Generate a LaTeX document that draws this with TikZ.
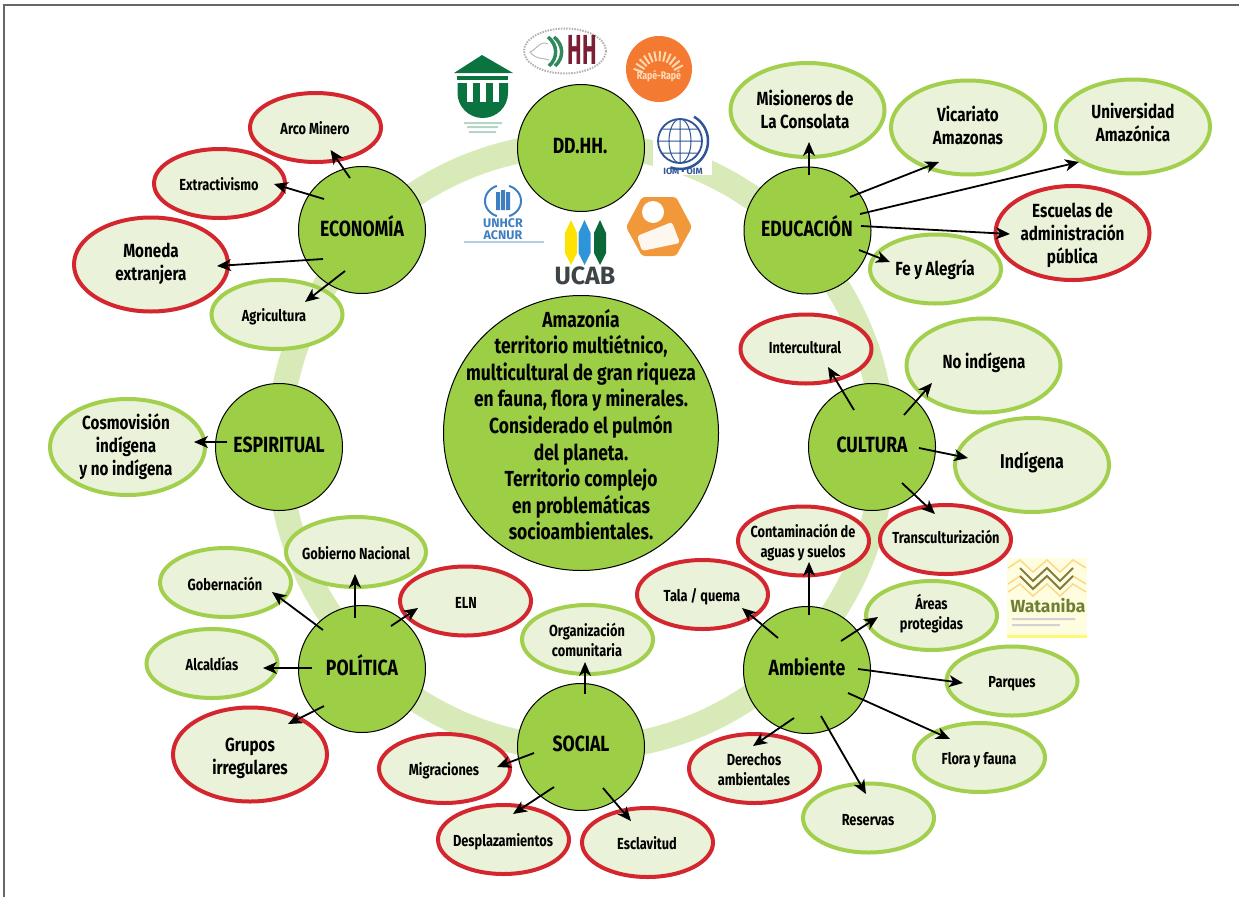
\documentclass[tikz,border=0pt]{standalone}
\usepackage{fontspec}
\setmainfont{Fira Sans}[FakeStretch=0.8]
\newfontfamily\widef{Fira Sans}
\newfontfamily\narrowf{Fira Sans}[FakeStretch=0.52]
\usetikzlibrary{arrows.meta,shapes.geometric,calc}
\definecolor{ringc}{HTML}{D8EAB8}
\definecolor{circc}{HTML}{9CCF45}
\definecolor{ellf}{HTML}{EAF3D9}
\definecolor{grnb}{HTML}{A2D04E}
\definecolor{redb}{HTML}{D4262E}
\definecolor{frame}{HTML}{666666}
\definecolor{temple}{HTML}{0B7340}
\definecolor{orng}{HTML}{F47A32}
\definecolor{orng2}{HTML}{F0983A}
\definecolor{iomb}{HTML}{2F5597}
\definecolor{unb}{HTML}{3F7FC1}
\definecolor{maroon}{HTML}{7A1F35}
\definecolor{ucabg}{HTML}{3D4448}
\definecolor{watg}{HTML}{6F7F32}
\tikzset{
  hub/.style={circle,draw=black,line width=1pt,fill=circc,minimum size=127pt,inner sep=0pt,font=\bfseries\fontsize{22}{26}\selectfont},
  ell/.style={ellipse,fill=ellf,line width=4pt,inner sep=0pt,font=\bfseries\fontsize{16}{20}\selectfont,minimum width=131pt,minimum height=69pt},
  redell/.style={ell,draw=redb},
  grnell/.style={ell,draw=grnb},
  big/.style={minimum width=154pt,minimum height=94pt,font=\bfseries\fontsize{19}{23}\selectfont},
  conn/.style={-{Stealth[length=14pt,width=12pt,inset=4pt]},line width=1.8pt,black},
}
% text set off from the centre of its node by (dx,dy) in picture units
\newcommand{\lf}[3]{\raisebox{\dimexpr 0pt-(#2pt)-0.25em-2.5pt\relax}[0pt][0pt]{\makebox[0pt]{\kern\dimexpr #1pt*2\relax\begin{tabular}{@{}c@{}}#3\end{tabular}}}}
\newcommand{\arw}[4]{\draw[conn] ([shift={(#2)}]#1.center) -- ([shift={(#4)}]#3.center);}
\begin{document}
\begin{tikzpicture}[x=1pt,y=-1pt]
\useasboundingbox (0,0) rectangle (1239,897);
\draw[frame,line width=2pt] (3.5,897) -- (3.5,4.5) -- (1239,4.5);
% ring
\draw[ringc,line width=25pt] (581,446.5) circle (302);
% logos
\begin{scope}
  % temple
  \fill[temple] (482,55) -- (513,73) -- (454,73) -- cycle;
  \fill[temple] (457,76) rectangle (508,80);
  \fill[temple] (457.5,83) -- (508,83) -- (508,93) arc (0:-180:25.25 and -25) -- cycle;
  \foreach \xx in {467,480,493} {\fill[white] (\xx,83) rectangle (\xx+6,102);}
  \fill[temple!30] (464,122) rectangle (502,124) (467,126) rectangle (498,128) (469,131) rectangle (496,133);
  % human rights
  \draw[gray!60,line width=2pt,dash pattern=on 1.5pt off 1.2pt] (565,51) ellipse (41 and 22.5);
  \draw[gray!55,line width=1pt] (548,44) .. controls (540,40) and (536,50) .. (530,52) .. controls (536,60) and (545,58) .. (549,60);
  \draw[temple!85,line width=3.5pt] (548,37) .. controls (558,45) and (558,58) .. (549,66);
  \draw[temple!85,line width=3.5pt] (554,37) .. controls (564,45) and (564,58) .. (555,66);
  \node[font=\narrowf\bfseries\fontsize{42}{42}\selectfont,text=maroon,inner sep=0pt] (hhlogo) at (582,50) {HH};
  % Rape-Rape
  \fill[orng] (659,69) circle (33);
  \foreach \a in {200,212,...,340} {\draw[orange!30!white,line width=2pt] ({659+17*cos(\a)},{78+17*sin(\a)}) -- ({659+27*cos(\a)},{78+27*sin(\a)});}
  \node[font=\bfseries\fontsize{11}{11}\selectfont,text=orange!25!white,inner sep=0pt] (rape) at (659,76) {Rapé-Rapé};
  % IOM
  \fill[white] (653,115) rectangle (712,175);
  \draw[iomb,line width=1.8pt] (680,141) circle (22);
  \draw[iomb,line width=1pt] (658,141) -- (702,141) (680,119) -- (680,163) (680,141) ellipse (11 and 22) (662,129) -- (698,129) (662,153) -- (698,153);
  \draw[iomb,line width=2.5pt,domain=-60:110,samples=40] plot ({680+28*cos(\x)},{141+28*sin(\x)});
  \node[font=\widef\bfseries\fontsize{9}{9}\selectfont,text=iomb,inner sep=0pt] (iom) at (683,171) {IOM • OIM};
  % UNHCR
  \draw[unb,line width=2pt,domain=110:250,samples=30] plot ({503+18*cos(\x)},{201+16*sin(\x)});
  \draw[unb,line width=2pt,domain=-70:70,samples=30] plot ({503+18*cos(\x)},{201+16*sin(\x)});
  \fill[unb] (496,192) rectangle (500,210) (501,190) rectangle (505,210) (506,192) rectangle (510,210);
  \node[font=\widef\bfseries\fontsize{12.5}{12.5}\selectfont,text=unb,align=center,inner sep=0pt] (unhcr) at (503,229) {UNHCR\\ACNUR};
  \fill[unb!40] (464,241) rectangle (544,243);
  % UCAB
  \fill[yellow!85!orange] (571,220) -- (577,233) -- (577,253) -- (571,265) -- (565,253) -- (565,233) -- cycle;
  \fill[cyan!70!blue!85] (584.5,220) -- (590.5,233) -- (590.5,253) -- (584.5,265) -- (578.5,253) -- (578.5,233) -- cycle;
  \fill[temple!90!black] (600,220) -- (606,233) -- (606,253) -- (600,265) -- (594,253) -- (594,233) -- cycle;
  \node[font=\widef\bfseries\fontsize{25}{25}\selectfont,text=ucabg,inner sep=0pt] (ucab) at (585,276) {UCAB};
  % orange hexagon
  \fill[orng2,rounded corners=3pt] (642,197) -- (676,197) -- (692,227) -- (676,256) -- (642,256) -- (626,227) -- cycle;
  \fill[white] (653,212) circle (11);
  \fill[white!92!orng2,rounded corners=3pt] (637,236) -- (672,222) -- (680,243) -- (642,251) -- cycle;
  % Wataniba
  \fill[yellow!12] (1007,558) rectangle (1087,638);
  \foreach \yy in {560,576,584} {\draw[yellow!40!orange!45,line width=1.5pt] (1008,\yy+8) -- (1020,\yy) -- (1033,\yy+12) -- (1047,\yy) -- (1060,\yy+12) -- (1073,\yy) -- (1086,\yy+8);}
  \foreach \yy in {568,576} {\draw[black!40!olive!80,line width=2pt] (1020,\yy) -- (1033,\yy+13) -- (1047,\yy) -- (1060,\yy+13) -- (1073,\yy);}
  \node[font=\widef\bfseries\fontsize{17.5}{17.5}\selectfont,text=watg,inner sep=0pt] (watlogo) at (1048,606) {Wataniba};
  \fill[gray!35] (1012,618) rectangle (1075,620) (1012,624) rectangle (1060,626);
  \fill[yellow!55] (1007,635) rectangle (1087,638);
\end{scope}
% hubs
\node[hub] (dd) at (581,148) {\lf{-1}{-3}{DD.HH.}};
\node[hub] (eco) at (362,230) {\lf{0}{-3}{ECONOMÍA}};
\node[hub] (edu) at (807.5,230.5) {\lf{-0.5}{-3.5}{EDUCACIÓN}};
\node[hub] (esp) at (279,447) {\lf{0}{-3}{ESPIRITUAL}};
\node[hub] (cul) at (872,447) {\lf{0}{-3}{CULTURA}};
\node[hub] (pol) at (362,669) {\lf{0}{-3}{POLÍTICA}};
\node[hub] (amb) at (807,670) {\lf{0}{-3}{Ambiente}};
\node[hub] (soc) at (581,747) {\lf{0}{-4}{SOCIAL}};
\node[hub,minimum size=275pt,font=\bfseries\fontsize{21.8}{26.6}\selectfont] (main) at (581,433) {\lf{0}{-7.5}{Amazonía\\territorio multiétnico,\\multicultural de gran riqueza\\en fauna, flora y minerales.\\Considerado el pulmón\\del planeta.\\Territorio complejo\\en problemáticas\\socioambientales.}};
% ellipses
\node[redell] (arco) at (315.5,127.5) {\lf{-0.5}{0.5}{Arco Minero}};
\node[redell] (extr) at (219.5,183.5) {\lf{-0.5}{0.5}{Extractivismo}};
\node[redell,big] (mon) at (151,264.5) {\lf{0}{-3.5}{Moneda\\extranjera}};
\node[grnell] (agr) at (277,314.5) {\lf{-3}{0.5}{Agricultura}};
\node[grnell,big,minimum width=155pt,minimum height=96pt] (cos) at (127.5,447) {\lf{-1.5}{-2}{Cosmovisión\\indígena\\y no indígena}};
\node[grnell,minimum width=140pt,minimum height=70pt] (gob) at (356,552) {\lf{0}{1}{Gobierno Nacional}};
\node[redell] (eln) at (465.5,601) {\lf{0.5}{1}{ELN}};
\node[grnell] (gobn) at (225.5,582.5) {\lf{-0.5}{1.5}{Gobernación}};
\node[grnell] (alc) at (212,663.5) {\lf{0}{0.5}{Alcaldías}};
\node[redell,big] (gru) at (250,754.5) {\lf{0}{0.5}{Grupos\\irregulares}};
\node[grnell] (org) at (587.5,639.5) {\lf{-0.5}{0.5}{Organización\\comunitaria}};
\node[redell] (mig) at (444.5,768.5) {\lf{-0.5}{0.5}{Migraciones}};
\node[redell] (des) at (503.5,839.5) {\lf{-0.5}{0.5}{Desplazamientos}};
\node[redell] (esc) at (647.5,842.5) {\lf{-0.5}{0.5}{Esclavitud}};
\node[redell] (der) at (754.5,768.5) {\lf{-0.5}{0.5}{Derechos\\ambientales}};
\node[grnell] (res) at (868.5,818) {\lf{-0.5}{1}{Reservas}};
\node[grnell] (flo) at (979.5,757.5) {\lf{-0.5}{0.5}{Flora y fauna}};
\node[grnell] (par) at (1012,681) {\lf{0}{0}{Parques}};
\node[grnell] (are) at (931.5,615.5) {\lf{0}{-2.5}{Áreas\\protegidas}};
\node[redell] (tal) at (702.5,594.5) {\lf{-0.5}{0.5}{Tala / quema}};
\node[redell] (con) at (803.5,541) {\lf{-0.5}{0.5}{Contaminación de\\aguas y suelos}};
\node[redell] (tra) at (945.5,539.5) {\lf{0.5}{-2.5}{Transculturización}};
\node[grnell,big,font=\bfseries\fontsize{20}{23}\selectfont] (ind) at (1032,465) {\lf{0}{-4}{Indígena}};
\node[grnell,big] (noi) at (983.5,365.5) {\lf{0.5}{-4.5}{No indígena}};
\node[redell] (int) at (806,349) {\lf{-1}{-2}{Intercultural}};
\node[grnell,font=\bfseries\fontsize{19}{23}\selectfont] (fe) at (935.5,269) {\lf{-0.5}{-1}{Fe y Alegría}};
\node[redell,big] (esu) at (1072.5,233) {\lf{0}{0}{Escuelas de\\administración\\pública}};
\node[grnell,big] (uni) at (1133,126.5) {\lf{0}{-4}{Universidad\\Amazónica}};
\node[grnell,big] (vic) at (968,127.5) {\lf{0}{-2.5}{Vicariato\\Amazonas}};
\node[grnell,big] (mis) at (807.5,110) {\lf{-2.5}{-0.5}{Misioneros de\\La Consolata}};
% connectors
\arw{eco}{-12,-52}{arco}{15,22.5}
\arw{eco}{-38,-31}{extr}{54.5,0.5}
\arw{eco}{-39,29}{mon}{66,1.5}
\arw{eco}{-17,41}{agr}{28,-12.5}
\arw{edu}{1.5,-55.5}{mis}{1.5,32}
\arw{edu}{42.5,-33.5}{vic}{-29,34.5}
\arw{edu}{52.5,-16.5}{uni}{-54,35.5}
\arw{edu}{53.5,-4.5}{esu}{-62.5,1}
\arw{edu}{51.5,19.5}{fe}{-45.5,-7}
\arw{esp}{-52,-5}{cos}{66.5,-5}
\arw{cul}{-18,-37}{int}{22,18}
\arw{cul}{32,-32}{noi}{-51.5,17.5}
\arw{cul}{47,1}{ind}{-64,-7}
\arw{cul}{30,36}{tra}{-10.5,-25.5}
\arw{amb}{2,-55}{con}{5.5,21}
\arw{amb}{-29,-32}{tal}{39.5,13.5}
\arw{amb}{34,-29}{are}{-53.5,1.5}
\arw{amb}{51,-1}{par}{-49,2}
\arw{amb}{41,23}{flo}{-29.5,-18.5}
\arw{amb}{14,46}{res}{-2.5,-24}
\arw{amb}{-13,48}{der}{-1.5,-22.5}
\arw{soc}{4,-53}{org}{-2.5,22.5}
\arw{soc}{-47,6}{mig}{52.5,-1.5}
\arw{soc}{-27,40}{des}{9.5,-25.5}
\arw{soc}{22,41}{esc}{-16.5,-21.5}
\arw{pol}{29,-43}{eln}{-47.5,7}
\arw{pol}{-7,-51}{gob}{-1,22}
\arw{pol}{-39,-39}{gobn}{46.5,9.5}
\arw{pol}{-50,-1}{alc}{51,4.5}
\arw{pol}{-38,37}{gru}{38,-30.5}
\end{tikzpicture}
\end{document}
